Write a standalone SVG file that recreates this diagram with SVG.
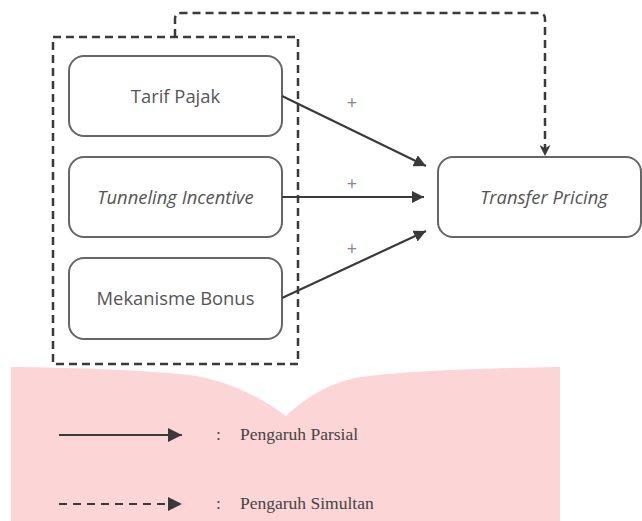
<svg xmlns="http://www.w3.org/2000/svg" width="642" height="521" viewBox="0 0 642 521">
<style>
.box{fill:#fff;stroke:#666;stroke-width:2}
.lbl{font-family:"Open Sans","Noto Sans",sans-serif;font-size:18.4px;fill:#555;text-anchor:middle}
.it{font-style:italic}
.edge{stroke:#3a3a3a;stroke-width:2.2;fill:none}
.dash{stroke:#3a3a3a;stroke-width:2.5;fill:none;stroke-dasharray:8 5}
.plus{font-family:"Open Sans",sans-serif;font-size:18px;fill:#888;text-anchor:middle}
.leg{font-family:"Liberation Serif",serif;font-size:17.5px;fill:#444}
</style>
<defs>
<marker id="ah" viewBox="0 0 10 10" refX="10" refY="5" markerWidth="5.5" markerHeight="5.5" markerUnits="strokeWidth" orient="auto">
<path d="M0,0 L10,5 L0,10 z" fill="#3a3a3a"/>
</marker>
<marker id="ahl" viewBox="0 0 10 10" refX="10" refY="5" markerWidth="6.5" markerHeight="7" markerUnits="strokeWidth" orient="auto">
<path d="M0,0 L10,5 L0,10 z" fill="#3a3a3a"/>
</marker>
<marker id="ahs" viewBox="0 0 10 10" refX="10" refY="5" markerWidth="4.4" markerHeight="4.4" markerUnits="strokeWidth" orient="auto">
<path d="M0,0 L10,5 L0,10 L3,5 z" fill="#3a3a3a"/>
</marker>
</defs>
<rect width="642" height="521" fill="#fff"/>
<path d="M11,367 Q120,368 190,375 Q240,382 286,416 Q320,384 360,377 Q420,369 560,367 L560,521 L11,521 Z" fill="#fcd5d7"/>
<g id="group-x">
<rect x="53" y="37" width="245" height="327" class="dash"/>
</g>
<g id="n1"><rect x="69" y="56" width="213" height="80" rx="15" class="box"/><text x="175.5" y="103" class="lbl">Tarif Pajak</text></g>
<g id="n2"><rect x="69" y="157" width="213" height="80" rx="15" class="box"/><text x="175.5" y="204" class="lbl it">Tunneling Incentive</text></g>
<g id="n3"><rect x="69" y="258" width="213" height="81" rx="15" class="box"/><text x="175.5" y="305" class="lbl">Mekanisme Bonus</text></g>
<g id="n4"><rect x="438" y="157" width="203" height="80" rx="15" class="box"/><text x="544" y="204" class="lbl it">Transfer Pricing</text></g>
<g id="connectors">
<line x1="282" y1="96" x2="426" y2="166" class="edge" marker-end="url(#ah)"/>
<line x1="282" y1="197" x2="424" y2="197" class="edge" marker-end="url(#ah)"/>
<line x1="282" y1="298" x2="426" y2="231" class="edge" marker-end="url(#ah)"/>
<path d="M175,37 V19 Q175,13 181,13 H539 Q545,13 545,19 V156" class="dash" marker-end="url(#ahs)"/>
<text x="352" y="109" class="plus">+</text>
<text x="352" y="190" class="plus">+</text>
<text x="352" y="255" class="plus">+</text>
</g>
<g id="legend">
<line x1="59" y1="435" x2="182" y2="435" class="edge" marker-end="url(#ahl)"/>
<line x1="59" y1="504" x2="182" y2="504" class="edge" stroke-dasharray="8 6" marker-end="url(#ahl)"/>
<text x="216" y="440" class="leg">:</text>
<text x="240" y="440" class="leg">Pengaruh Parsial</text>
<text x="216" y="509" class="leg">:</text>
<text x="240" y="509" class="leg">Pengaruh Simultan</text>
</g>
</svg>
